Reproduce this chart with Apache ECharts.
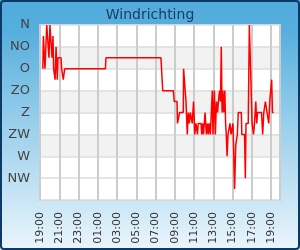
<!DOCTYPE html>
<html>
<head>
<meta charset="utf-8">
<script src="https://cdn.jsdelivr.net/npm/echarts@6/dist/echarts.min.js"></script>
<style>html,body{margin:0;padding:0;}#c{width:300px;height:250px;}</style>
</head>
<body>
<div id="c"></div>
<script>
// Wind direction samples: local time (starting 19:00, crossing midnight) and direction in degrees
const times = ["19:18","19:21","19:31","19:42","19:52","19:56","20:02","20:10","20:15","20:21","20:25","20:34","20:40","20:48","20:52","21:11","21:15","21:25","21:34",
"01:48","01:51","07:34","07:45","08:51","08:57","09:14","09:17","09:26","09:30","09:53","09:55","10:06","10:10","10:18","10:24","10:31","10:37","10:41","10:49","10:57","11:05","11:12","11:22","11:26","11:44","11:48","11:54","11:59","12:09","12:17","12:24","12:29","12:35","12:42","12:49","12:54","12:58","13:07","13:13","13:20","13:27","13:32","13:39","13:45","13:50","13:55","14:00","14:06","14:12","14:17","14:21","14:26","14:32","14:40","14:44","14:51","14:59","15:03","15:13","15:20","15:26","15:30","15:33","15:36","15:55","15:58","16:15","16:20","16:24","16:38","16:45","16:52","17:02","17:11","17:17","17:25","17:31","17:36","18:01","18:08","18:15","18:25","18:31","18:35","18:46","18:52","19:00","19:04","19:09","19:17"];
const directions = [90,22.5,90,0,0,67.5,0,0,67.5,22.5,90,112.5,45,112.5,67.5,67.5,90,112.5,90,
90,67.5,67.5,135,135,157.5,157.5,202.5,202.5,180,180,90,90,157.5,225,180,202.5,180,180,202.5,157.5,225,202.5,225,202.5,202.5,225,202.5,225,180,225,202.5,225,202.5,225,225,135,225,135,225,157.5,180,157.5,135,157.5,45,180,135,180,135,202.5,225,270,225,225,202.5,225,225,202.5,337.5,247.5,247.5,225,202.5,180,180,225,225,315,202.5,202.5,0,0,202.5,225,202.5,157.5,202.5,180,180,225,180,157.5,157.5,180,202.5,157.5,157.5,112.5,180,180];
const dirLabels = ["N","NO","O","ZO","Z","ZW","W","NW"];
const startHour = 19;

// convert clock times into minutes since the 19:00 start (with day rollover)
const data = [];
let dayOffset = 0, prev = -1;
times.forEach((t, i) => {
  const [h, m] = t.split(":").map(Number);
  let mins = ((h - startHour + 24) % 24) * 60 + m;
  let abs = mins + dayOffset;
  if (abs < prev) { dayOffset += 1440; abs = mins + dayOffset; }
  prev = abs;
  data.push([abs, directions[i]]);
});

const font = "DejaVu Sans";
const chart = echarts.init(document.getElementById("c"), null, {renderer: "canvas"});
chart.setOption({
  animation: false,
  backgroundColor: {type: "linear", x: 0, y: 0, x2: 0, y2: 1, colorStops: [
    {offset: 0, color: "#52abdb"}, {offset: 0.12, color: "#56aedd"}, {offset: 0.5, color: "#9acfec"}, {offset: 1, color: "#eaf5fc"}]},
  title: {text: "Windrichting", left: "center", top: 3,
    textStyle: {color: "#1b3d60", fontSize: 14, fontWeight: "normal", fontFamily: font}},
  grid: {left: 40, right: 20, top: 25, bottom: 50, show: true, backgroundColor: "#fff", borderColor: "#cccccc", borderWidth: 2},
  xAxis: {type: "value", min: 0, max: 1496, interval: 120,
    axisLine: {show: false}, axisTick: {show: false},
    splitLine: {show: true, lineStyle: {color: "#cccccc", width: 2}},
    axisLabel: {rotate: 90, margin: 12, color: "#333", fontSize: 11, fontFamily: font,
      formatter: v => { if (v % 120 !== 0) return ""; const h = (startHour + v / 60) % 24; return (h < 10 ? "0" : "") + h + ":00"; }}},
  yAxis: {type: "value", inverse: true, min: 0, max: 360, interval: 45,
    axisLine: {show: false}, axisTick: {show: false},
    splitLine: {show: true, lineStyle: {color: "#dddddd", width: 1.5}},
    splitArea: {show: true, areaStyle: {color: ["#ffffff","#f2f2f2","#ffffff","#f2f2f2","#ffffff","#f2f2f2","#ffffff","#ffffff"]}},
    axisLabel: {margin: 10, color: "#444", fontSize: 13, fontFamily: font,
      formatter: v => dirLabels[v / 45] || ""}},
  series: [{type: "line", data: data, showSymbol: false, symbol: "none",
    lineStyle: {color: "#ff0000", width: 1.5}}],
  graphic: [{type: "rect", shape: {x: 1, y: 1, width: 298, height: 248, r: 3},
    style: {fill: null, stroke: "#0c3a66", lineWidth: 2}, z: 100}]
});
</script>
</body>
</html>
